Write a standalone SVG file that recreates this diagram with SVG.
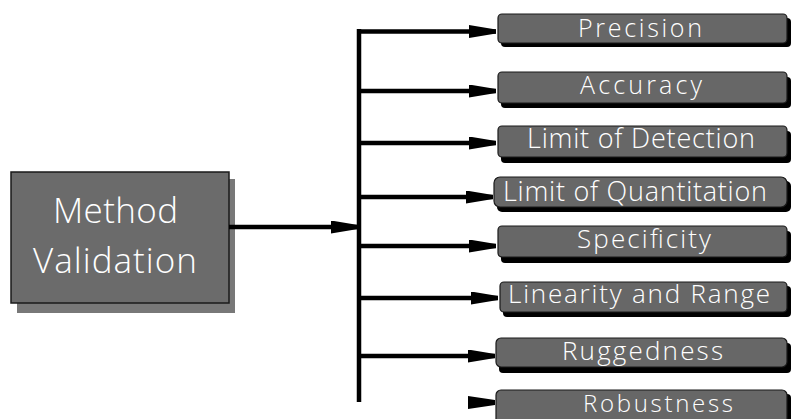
<svg xmlns="http://www.w3.org/2000/svg" width="791" height="419" viewBox="0 0 791 419">
  <defs>
    <style>
      .lbl { font-family: "Open Sans", "Liberation Sans", Arial, sans-serif; font-weight: 300; fill: #ffffff; }
      .box { fill: #676767; stroke: #1a1a1a; stroke-width: 1.2; }
      .shade { fill: #000000; }
      .wire { stroke: #000000; stroke-width: 4.5; fill: none; }
      .head { fill: #000000; }
    </style>
    <!-- wedge-shaped arrowhead, tip on the line's end point -->
    <marker id="wedge" viewBox="0 0 27 13" refX="27" refY="6.5" markerWidth="27" markerHeight="13" markerUnits="userSpaceOnUse" orient="auto">
      <path d="M0,0 L27,4.5 L27,8.5 L0,13 z" fill="#000000"/>
    </marker>
  </defs>

  <rect width="791" height="419" fill="#ffffff"/>

  <!-- source node -->
  <g id="method-validation">
    <rect x="17" y="179" width="218" height="134" fill="#787878"/>
    <rect x="11" y="172" width="218" height="131" fill="#6b6b6b" stroke="#1a1a1a" stroke-width="1.5"/>
    <text class="lbl" x="53" y="223" font-size="35" textLength="125" lengthAdjust="spacing">Method</text>
    <text class="lbl" x="33" y="273" font-size="35" textLength="164" lengthAdjust="spacing">Validation</text>
  </g>

  <!-- connectors -->
  <g id="connectors">
    <path class="wire" d="M229,227 H358" marker-end="url(#wedge)"/>
    <path class="wire" d="M359,29 V402"/>
    <path class="wire" d="M357,31.5 H496" marker-end="url(#wedge)"/>
    <path class="wire" d="M359,91 H496" marker-end="url(#wedge)"/>
    <path class="wire" d="M359,143 H496" marker-end="url(#wedge)"/>
    <path class="wire" d="M359,197 H493" marker-end="url(#wedge)"/>
    <path class="wire" d="M359,246 H496" marker-end="url(#wedge)"/>
    <path class="wire" d="M359,298 H498" marker-end="url(#wedge)"/>
    <path class="wire" d="M359,356 H495" marker-end="url(#wedge)"/>
    <!-- lone arrowhead below the trunk -->
    <path class="head" d="M468,396 L495,400 L495,405 L468,409 z"/>
  </g>

  <!-- target nodes -->
  <g id="precision">
    <rect class="shade" x="501" y="18" width="290" height="29" rx="4"/>
    <rect class="box" x="498" y="14" width="289" height="29" rx="4"/>
    <text class="lbl" x="578" y="37" font-size="25" textLength="124" lengthAdjust="spacing">Precision</text>
  </g>
  <g id="accuracy">
    <rect class="shade" x="501" y="77" width="290" height="31" rx="4"/>
    <rect class="box" x="498" y="72" width="289" height="31" rx="4"/>
    <text class="lbl" x="580" y="94" font-size="25" textLength="122" lengthAdjust="spacing">Accuracy</text>
  </g>
  <g id="limit-of-detection">
    <rect class="shade" x="501" y="131" width="290" height="32" rx="4"/>
    <rect class="box" x="498" y="126" width="289" height="31" rx="4"/>
    <text class="lbl" x="527" y="148" font-size="27" textLength="228" lengthAdjust="spacing">Limit of Detection</text>
  </g>
  <g id="limit-of-quantitation">
    <rect class="shade" x="497" y="181" width="294" height="31" rx="5"/>
    <rect class="box" x="494" y="177" width="293" height="30" rx="6"/>
    <text class="lbl" x="503" y="201" font-size="27" textLength="264" lengthAdjust="spacing">Limit of Quantitation</text>
  </g>
  <g id="specificity">
    <rect class="shade" x="501" y="231" width="290" height="32" rx="4"/>
    <rect class="box" x="498" y="226" width="289" height="31" rx="4"/>
    <text class="lbl" x="577" y="248" font-size="26" textLength="134" lengthAdjust="spacing">Specificity</text>
  </g>
  <g id="linearity-and-range">
    <rect class="shade" x="503" y="286" width="288" height="31" rx="4"/>
    <rect class="box" x="500" y="282" width="287" height="30" rx="4"/>
    <text class="lbl" x="508" y="303" font-size="26" textLength="262" lengthAdjust="spacing">Linearity and Range</text>
  </g>
  <g id="ruggedness">
    <rect class="shade" x="499" y="343" width="292" height="30" rx="4"/>
    <rect class="box" x="496" y="338" width="291" height="29" rx="5"/>
    <text class="lbl" x="562" y="360" font-size="26" textLength="161" lengthAdjust="spacing">Ruggedness</text>
  </g>
  <g id="robustness">
    <rect class="shade" x="499" y="394" width="292" height="40" rx="4"/>
    <rect class="box" x="496" y="390" width="291" height="40" rx="5"/>
    <text class="lbl" x="583" y="412" font-size="24" textLength="150" lengthAdjust="spacing">Robustness</text>
  </g>
</svg>
